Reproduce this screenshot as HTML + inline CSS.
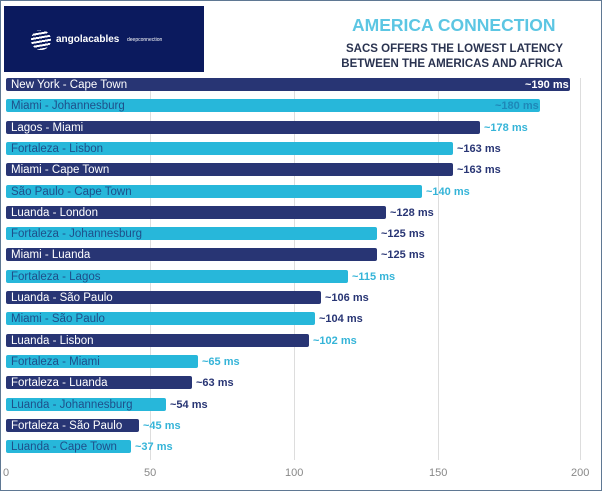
<!DOCTYPE html><html><head><meta charset="utf-8"><style>
body{margin:0;width:602px;height:491px;overflow:hidden;background:#fff;font-family:"Liberation Sans",sans-serif}
#f{position:absolute;left:0;top:0;width:600px;height:489px;border:1px solid #5f7893}
.bar{position:absolute;left:6px;height:13px;border-radius:2px;font-size:11.5px;line-height:14px;box-sizing:border-box;padding-left:5px;white-space:nowrap}
.d{background:#283574;color:#fff}.c{background:#27b7da;color:#1e4f8a}
.v{position:absolute;font-size:11px;font-weight:bold;line-height:14px;white-space:nowrap}
.g{position:absolute;top:78px;height:382px;width:1px;background:#ddd}
.t{position:absolute;top:467px;font-size:11px;color:#888}
</style></head><body><div id="f"></div>
<div style="position:absolute;left:4px;top:6px;width:200px;height:66px;background:#0b1a5e"></div>
<div style="position:absolute;left:31px;top:30px;width:20px;height:20px;border-radius:50%;background:repeating-linear-gradient(170deg,#fff 0 2px,transparent 2px 4px)"></div>
<div style="position:absolute;left:56px;top:34px;color:#fff;font-size:10px;font-weight:bold">angolacables</div>
<div style="position:absolute;left:127px;top:37px;color:#fff;font-size:5px">deepconnection</div>
<div style="position:absolute;left:352px;top:15px;color:#5cc6e3;font-size:17.5px;font-weight:bold">AMERICA CONNECTION</div>
<div style="position:absolute;left:330px;top:42px;width:233px;text-align:right;color:#2a3350;font-size:11.5px;font-weight:bold;line-height:15px">SACS OFFERS THE LOWEST LATENCY<br>BETWEEN THE AMERICAS AND AFRICA</div>
<div class="g" style="left:150px"></div><div class="g" style="left:294px"></div><div class="g" style="left:438px"></div><div class="g" style="left:580px"></div>
<div class="t" style="left:3px">0</div><div class="t" style="left:144px">50</div><div class="t" style="left:285px">100</div><div class="t" style="left:429px">150</div><div class="t" style="left:571px">200</div>
<div id="bars"></div>
<script>
var R=[["New York - Cape Town",570,"d","~190 ms","in","#fff"],["Miami - Johannesburg",540,"c","~180 ms","in","#1e88b8"],["Lagos - Miami",480,"d","~178 ms","o","#35b4d8"],["Fortaleza - Lisbon",453,"c","~163 ms","o","#283574"],["Miami - Cape Town",453,"d","~163 ms","o","#283574"],["São Paulo - Cape Town",422,"c","~140 ms","o","#35b4d8"],["Luanda - London",386,"d","~128 ms","o","#283574"],["Fortaleza - Johannesburg",377,"c","~125 ms","o","#283574"],["Miami - Luanda",377,"d","~125 ms","o","#283574"],["Fortaleza - Lagos",348,"c","~115 ms","o","#35b4d8"],["Luanda - São Paulo",321,"d","~106 ms","o","#283574"],["Miami - São Paulo",315,"c","~104 ms","o","#283574"],["Luanda - Lisbon",309,"d","~102 ms","o","#35b4d8"],["Fortaleza - Miami",198,"c","~65 ms","o","#35b4d8"],["Fortaleza - Luanda",192,"d","~63 ms","o","#283574"],["Luanda - Johannesburg",166,"c","~54 ms","o","#283574"],["Fortaleza - São Paulo",139,"d","~45 ms","o","#35b4d8"],["Luanda - Cape Town",131,"c","~37 ms","o","#35b4d8"]];
var h="";R.forEach(function(r,i){var y=78+i*21.3;h+='<div class="bar '+r[2]+'" style="top:'+y+'px;width:'+(r[1]-6)+'px">'+r[0]+'</div>';
var x=r[4]=="in"?r[1]-45:r[1]+4;h+='<div class="v" style="top:'+y+'px;left:'+x+'px;color:'+r[5]+'">'+r[3]+'</div>';});
document.getElementById("bars").innerHTML=h;
</script></body></html>
